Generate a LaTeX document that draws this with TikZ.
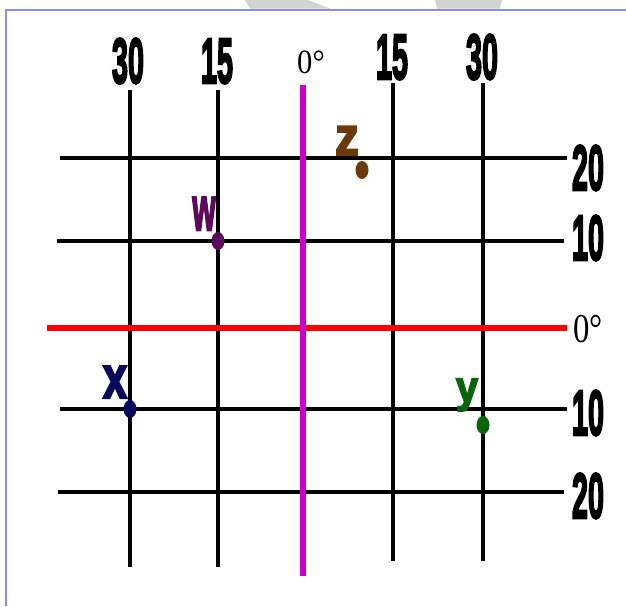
\documentclass[tikz,border=0pt]{standalone}
\usepackage{fontspec}
\setmainfont{Liberation Serif}
\newfontfamily\labfont{Liberation Sans}[BoldFeatures={FakeBold=4}]
\usepackage{xcolor}
\definecolor{frameBlue} {HTML}{8C8CF0}
\definecolor{wmGray}    {HTML}{D3D3D3}
\definecolor{meridian}  {HTML}{CC00CC}
\definecolor{equator}   {HTML}{FF0000}
\definecolor{ptW}       {HTML}{5C0A5C}
\definecolor{ptX}       {HTML}{0A0A5C}
\definecolor{ptY}       {HTML}{0A640A}
\definecolor{ptZ}       {HTML}{6B3A0A}
\usetikzlibrary{shapes.geometric}

\begin{document}
\begin{tikzpicture}[x=1pt, y=-1pt,
    every node/.style={inner sep=0pt},
    grid/.style={line width=4pt, black},
    num/.style={font=\labfont\bfseries\fontsize{64}{64}\selectfont,
                xscale=0.45, anchor=base},
    deg/.style={font=\fontsize{#1}{#1}\selectfont, anchor=base},
    ptlab/.style={font=\labfont\bfseries\fontsize{#1}{#1}\selectfont,
                  anchor=base},
    dot/.style={ellipse, minimum width=13pt, minimum height=18pt}
]
\useasboundingbox (0,0) rectangle (626,606);
% watermark pieces and frame
\fill[wmGray] (245,0) -- (308,0) -- (330,8.5) -- (250,8.5) -- cycle;
\fill[wmGray] (435,0) -- (502,0) -- (500,8.5) -- (437,8.5) -- cycle;
\draw[frameBlue, line width=1.5pt] (6,606) -- (6,10) -- (626,10);
% meridians
\foreach \x/\t/\b in {130/90/567, 218/90/567, 393/83/561, 483/83/561}
    \draw[grid] (\x,\t) -- (\x,\b);
% parallels
\foreach \y/\l/\r in {158/60/567, 241/57/564, 409/60/567, 492/58/564}
    \draw[grid] (\l,\y) -- (\r,\y);
% equator and prime meridian
\draw[equator, line width=6pt] (47,328) -- (567,328);
\draw[meridian, line width=6pt] (303,85) -- (303,576);
% longitude labels
\foreach \x/\y/\v [count=\i] in {128/83/30, 217/83/15, 392/79/15, 482/79/30}
    \node[num] (lon\i) at (\x,\y) {\v};
\node[deg=34, xscale=0.9] (lon0) at (311,73) {0°};
% latitude labels
\foreach \y/\v [count=\i] in {190/20, 260/10, 435/10, 518/20}
    \node[num] (lat\i) at (588,\y) {\v};
\node[deg=41, xscale=0.8] (lat0) at (588,342) {0°};
% points
\node[dot, fill=ptW] (w) at (218,241) {};
\node[dot, fill=ptX] (x) at (130,409) {};
\node[dot, fill=ptY] (y) at (483,425) {};
\node[dot, fill=ptZ] (z) at (362,170) {};
\node[ptlab=62, text=ptW, xscale=0.48] (wlab) at (204,230) {w};
\node[ptlab=60, text=ptX, xscale=0.72] (xlab) at (115,398) {x};
\node[ptlab=44, text=ptY, xscale=0.9] (ylab) at (467,402) {y};
\node[ptlab=54, text=ptZ, xscale=0.88] (zlab) at (347,155) {z};
\end{tikzpicture}
\end{document}
